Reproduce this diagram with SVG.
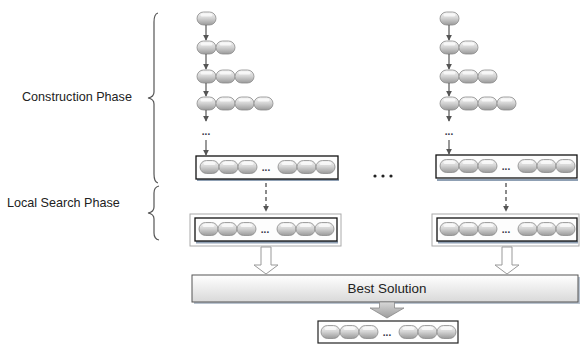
<svg xmlns="http://www.w3.org/2000/svg" xmlns:xlink="http://www.w3.org/1999/xlink" width="580" height="345" viewBox="0 0 580 345">
<style>
.lbl{font-family:"Liberation Sans",Arial,sans-serif;font-size:12.6px;fill:#222}
.pill{fill:url(#pg);stroke:#8a8a8a;stroke-width:0.8}
.hl{fill:#ffffff;opacity:0.7}
.arr{stroke:#555;stroke-width:1.2;fill:none}
.dash{stroke:#666;stroke-width:1.5;fill:none;stroke-dasharray:4 3}
.box{fill:#fdfdfd;stroke:#111;stroke-width:1.3}
.frame{fill:#fff;stroke:#aaa;stroke-width:1}
.shadow{fill:#8fa0b4}
.dots{font-family:"Liberation Sans",Arial,sans-serif;font-size:10px;fill:#334;font-weight:bold}
.brace{stroke:#555;stroke-width:1.2;fill:none}
.hollow{fill:#fff;stroke:#999;stroke-width:1}
</style>
<defs>
<linearGradient id="pg" x1="0" y1="0" x2="0" y2="1">
<stop offset="0" stop-color="#f4f4f4"/>
<stop offset="0.45" stop-color="#d6d6d6"/>
<stop offset="1" stop-color="#9a9a9a"/>
</linearGradient>
<linearGradient id="bg" x1="0" y1="0" x2="0" y2="1">
<stop offset="0" stop-color="#ffffff"/>
<stop offset="1" stop-color="#d9d9d9"/>
</linearGradient>
<linearGradient id="ga" x1="0" y1="0" x2="0" y2="1">
<stop offset="0" stop-color="#d8d8d8"/>
<stop offset="1" stop-color="#9c9c9c"/>
</linearGradient>
<g id="p">
<rect x="0" y="0" width="19" height="13" rx="6.5" ry="6.5" class="pill"/>
<rect x="3.5" y="1.5" width="12" height="3" rx="1.5" class="hl"/>
</g>
<g id="row">
<use xlink:href="#p" x="4" y="4.5"/>
<use xlink:href="#p" x="23" y="4.5"/>
<use xlink:href="#p" x="42" y="4.5"/>
<text x="70" y="15" class="dots" text-anchor="middle">...</text>
<use xlink:href="#p" x="82" y="4.5"/>
<use xlink:href="#p" x="101" y="4.5"/>
<use xlink:href="#p" x="120" y="4.5"/>
</g>
<marker id="ah" viewBox="0 0 8 8" refX="7" refY="4" markerWidth="6" markerHeight="6" orient="auto" markerUnits="userSpaceOnUse">
<path d="M0,0 L8,4 L0,8 z" fill="#555"/>
</marker>
</defs>
<rect width="580" height="345" fill="#fff"/>

<g id="labels">
<text x="22" y="101" class="lbl">Construction Phase</text>
<text x="7" y="207" class="lbl">Local Search Phase</text>
<path class="brace" d="M158,13 Q154,14 154,22 L154,92 Q154,97 148,98 Q154,99 154,104 L154,174 Q154,182 158,183"/>
<path class="brace" d="M159,186 Q154,187 154,193 L154,207 Q154,212 148,213 Q154,214 154,219 L154,233 Q154,239 159,240"/>
</g>

<g id="construct-left">
<use xlink:href="#p" x="197" y="12"/>
<use xlink:href="#p" x="197" y="41"/><use xlink:href="#p" x="216" y="41"/>
<use xlink:href="#p" x="197" y="70"/><use xlink:href="#p" x="216" y="70"/><use xlink:href="#p" x="235" y="70"/>
<use xlink:href="#p" x="197" y="97"/><use xlink:href="#p" x="216" y="97"/><use xlink:href="#p" x="235" y="97"/><use xlink:href="#p" x="254" y="97"/>
<text x="206" y="135" class="dots" text-anchor="middle">...</text>
</g>
<g id="construct-right">
<use xlink:href="#p" x="440" y="12"/>
<use xlink:href="#p" x="440" y="41"/><use xlink:href="#p" x="459" y="41"/>
<use xlink:href="#p" x="440" y="70"/><use xlink:href="#p" x="459" y="70"/><use xlink:href="#p" x="478" y="70"/>
<use xlink:href="#p" x="440" y="97"/><use xlink:href="#p" x="459" y="97"/><use xlink:href="#p" x="478" y="97"/><use xlink:href="#p" x="497" y="97"/>
<text x="449" y="135" class="dots" text-anchor="middle">...</text>
</g>

<g id="solution-left">
<rect x="197" y="179" width="142" height="2" class="shadow"/>
<rect x="196" y="156" width="142" height="23" class="box"/>
<use xlink:href="#row" x="196" y="156"/>
</g>
<g id="solution-right">
<rect x="437" y="179" width="141" height="2" class="shadow"/>
<rect x="436" y="155" width="141" height="23" class="box"/>
<use xlink:href="#row" x="436" y="155"/>
</g>

<g id="ellipsis">
<circle cx="375" cy="176" r="1.6" fill="#222"/>
<circle cx="383" cy="176" r="1.6" fill="#222"/>
<circle cx="391" cy="176" r="1.6" fill="#222"/>
</g>

<g id="local-left">
<rect x="190" y="214" width="151" height="32" class="frame"/>
<rect x="196" y="241" width="142" height="2.5" class="shadow"/>
<rect x="195" y="218" width="142" height="23" class="box"/>
<use xlink:href="#row" x="195" y="218"/>
</g>
<g id="local-right">
<rect x="432" y="214" width="147" height="32" class="frame"/>
<rect x="438" y="241" width="140" height="2.5" class="shadow"/>
<rect x="437" y="218" width="140" height="23" class="box"/>
<use xlink:href="#row" x="436" y="218"/>
</g>

<g id="best">
<rect x="194" y="277" width="386" height="27" fill="#b9c3cf"/>
<rect x="192" y="275" width="386" height="27" fill="url(#bg)" stroke="#555" stroke-width="1"/>
<text x="387" y="292.5" class="lbl" text-anchor="middle" style="font-size:13.4px">Best Solution</text>
</g>

<g id="final">
<rect x="318" y="321" width="140" height="22" fill="#fff" stroke="#222" stroke-width="1.2"/>
<use xlink:href="#row" x="317" y="321"/>
</g>

<g id="connectors">
<line x1="206" y1="25" x2="206" y2="40" class="arr" marker-end="url(#ah)"/>
<line x1="206" y1="54" x2="206" y2="69" class="arr" marker-end="url(#ah)"/>
<line x1="206" y1="83" x2="206" y2="96" class="arr" marker-end="url(#ah)"/>
<line x1="206" y1="110" x2="206" y2="121" class="arr" marker-end="url(#ah)"/>
<line x1="206" y1="140" x2="206" y2="155" class="arr" marker-end="url(#ah)"/>
<line x1="449" y1="25" x2="449" y2="40" class="arr" marker-end="url(#ah)"/>
<line x1="449" y1="54" x2="449" y2="69" class="arr" marker-end="url(#ah)"/>
<line x1="449" y1="83" x2="449" y2="96" class="arr" marker-end="url(#ah)"/>
<line x1="449" y1="110" x2="449" y2="121" class="arr" marker-end="url(#ah)"/>
<line x1="449" y1="140" x2="449" y2="154" class="arr" marker-end="url(#ah)"/>
<line x1="266" y1="183" x2="266" y2="211" class="dash" marker-end="url(#ah)"/>
<line x1="506" y1="183" x2="506" y2="211" class="dash" marker-end="url(#ah)"/>
<path class="hollow" d="M261,247 L271,247 L271,265 L278,265 L266,274 L254,265 L261,265 Z"/>
<path class="hollow" d="M502,247 L512,247 L512,265 L519,265 L507,274 L495,265 L502,265 Z"/>
<path d="M379.5,302 L394.5,302 L394.5,308 L404,308 L387,318 L370,308 L379.5,308 Z" fill="url(#ga)" stroke="#888" stroke-width="0.8"/>
</g>
</svg>
